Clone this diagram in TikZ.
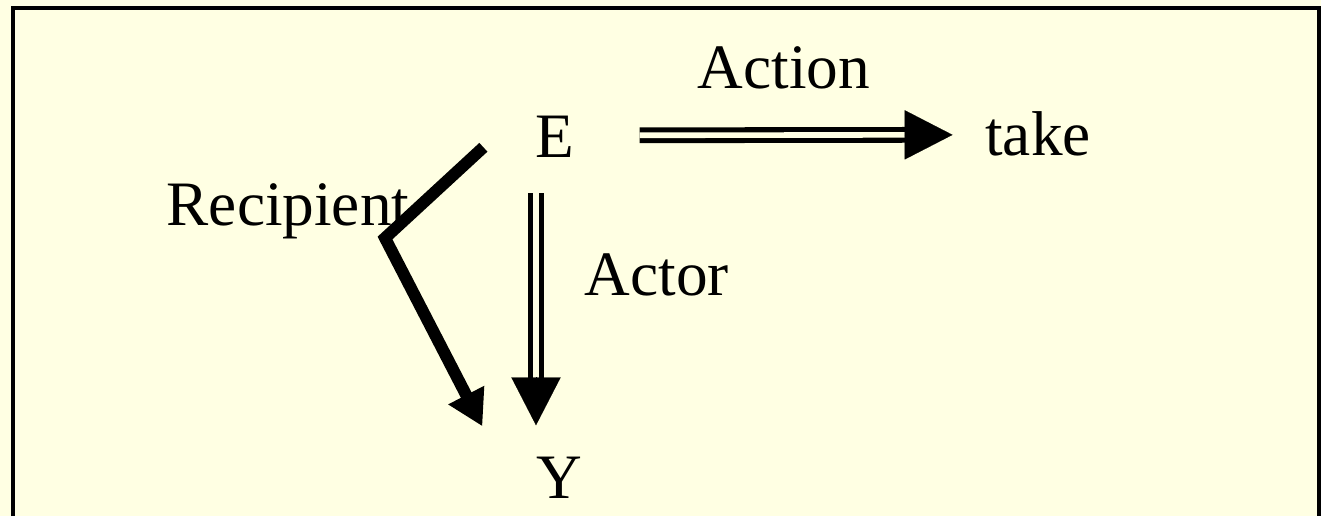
\documentclass[tikz,border=0pt]{standalone}
\usepackage{fontspec}
\setmainfont{Liberation Serif}
\usetikzlibrary{arrows.meta,calc}
\definecolor{cdpaper}{RGB}{255,255,227}

\begin{document}
\begin{tikzpicture}[x=0.025cm,y=-0.025cm,
  cdword/.style={inner sep=0pt,anchor=base,font=\fontsize{45}{52}\selectfont},
  cdshaft/.style={double=cdpaper,double distance=4pt,line width=3.6pt},
  cdhead/.style={-{Triangle[length=34pt,width=35pt]},line width=0.1pt},
  cdbent/.style={line width=8.5pt,line join=miter,-{Triangle[length=25pt,width=27pt]}}
]
  % paper and frame
  \fill[cdpaper] (0,0) rectangle (1321,516);
  \useasboundingbox (0,0) rectangle (1321,516);
  \draw[line width=2.2pt] (13,516) -- (13,8) -- (1319,8) -- (1319,516);

  % concepts
  \node[cdword] (E) at (555,157) {E};
  \node[cdword] (take) at (1038,155) {take};
  \node[cdword] (Y) at (559,498) {Y};

  % relation labels
  \node[cdword] (action) at (784,88) {Action};
  \node[cdword] (actor) at (657,295) {Actor};
  \node[cdword] (recipient) at (288,225) {Recipient};

  % Action: E => take
  \coordinate (acttip) at ($(take.west)+(-32.5,1.5)$);
  \draw[cdshaft] ($(E.east)+(65,-1)$) -- ($(acttip)+(-44,0)$);
  \draw[cdhead] ($(acttip)+(-48,0)$) -- (acttip);

  % Actor: E => Y
  \coordinate (agttip) at ($(Y.north)+(-23,-31)$);
  \draw[cdshaft] ($(E.south)+(-19,36)$) -- ($(agttip)+(0,-44)$);
  \draw[cdhead] ($(agttip)+(0,-48)$) -- (agttip);

  % Recipient: E -> Y, bent round the label
  \coordinate (rbend) at (385,238);
  \draw[cdbent] ($(E.west)+(-52,11)$) -- (rbend) -- ($(Y.north west)+(-53.5,-30)$);
\end{tikzpicture}
\end{document}
